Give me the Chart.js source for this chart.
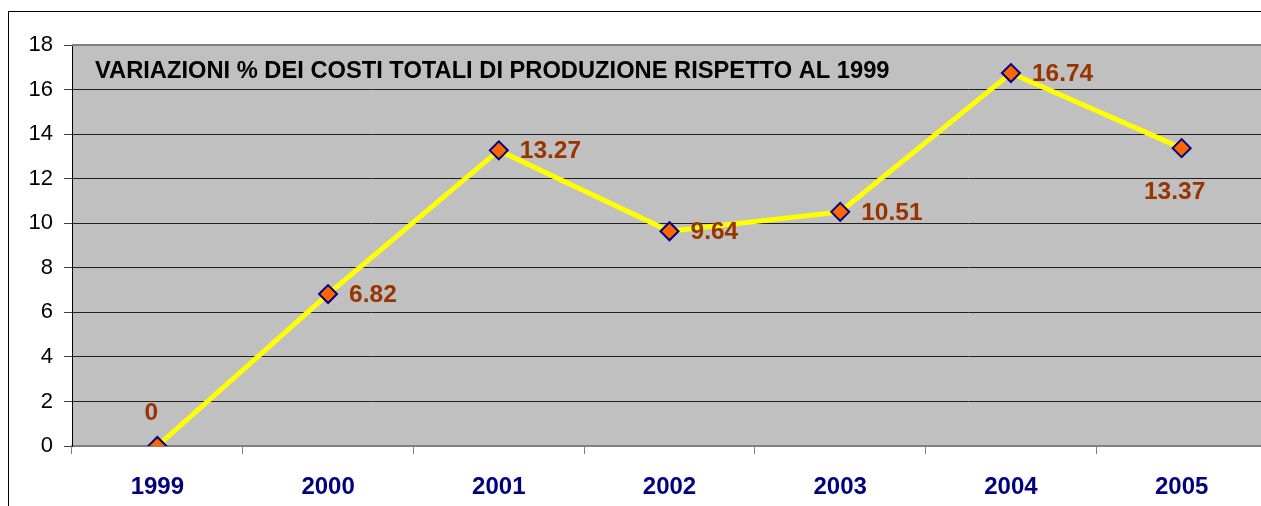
<!DOCTYPE html>
<html>
<head>
<meta charset="utf-8">
<script src="https://cdn.jsdelivr.net/npm/chart.js@4"></script>
<style>
    body { margin: 0; background: #fff; overflow: hidden; }
    #frame { position: absolute; left: 8px; top: 11px; width: 2000px; height: 1000px;
             border-top: 1px solid #000; border-left: 1px solid #000; }
    #wrap { position: absolute; left: 0; top: 0; width: 1278px; height: 506px; }
</style>
</head>
<body>
<div id="frame"></div>
<div id="wrap"><canvas id="costChart"></canvas></div>
<script>
// Dati del grafico
const anni = ['1999', '2000', '2001', '2002', '2003', '2004', '2005'];
const variazioni = [0, 6.82, 13.27, 9.64, 10.51, 16.74, 13.37];
const tickY = [0, 2, 4, 6, 8, 10, 12, 14, 16, 18];
const titolo = 'VARIAZIONI % DEI COSTI TOTALI DI PRODUZIONE RISPETTO AL 1999';

const FONT = '"Liberation Sans", Arial, sans-serif';

// Sfondo grigio dell'area del grafico + titolo interno
const areaPlugin = {
    id: 'area',
    beforeDraw(chart) {
        const { ctx, chartArea: a } = chart;
        ctx.save();
        ctx.fillStyle = '#C0C0C0';
        ctx.fillRect(a.left, a.top, a.right - a.left, a.bottom - a.top);
        ctx.restore();
    },
    beforeDatasetsDraw(chart) {
        const { ctx, chartArea: a } = chart;
        ctx.save();
        ctx.strokeStyle = '#808080';
        ctx.lineWidth = 2;
        ctx.beginPath();
        ctx.moveTo(a.left, a.top);
        ctx.lineTo(a.right, a.top);
        ctx.stroke();
        ctx.fillStyle = '#000';
        ctx.font = 'bold 23.7px ' + FONT;
        ctx.textBaseline = 'middle';
        ctx.fillText(titolo, a.left + 23, a.top + 26);
        ctx.restore();
    }
};

// Etichette dei valori vicino ai punti
const etichettePlugin = {
    id: 'etichette',
    afterDatasetsDraw(chart, args, opts) {
        const { ctx } = chart;
        const meta = chart.getDatasetMeta(0);
        ctx.save();
        ctx.fillStyle = '#993300';
        ctx.font = 'bold 24.5px ' + FONT;
        ctx.textBaseline = 'middle';
        meta.data.forEach((pt, i) => {
            const testo = String(variazioni[i]);
            const pos = opts.posizioni[i];
            if (pos === 'top') {
                ctx.textAlign = 'center';
                ctx.fillText(testo, pt.x - 6, pt.y - 33);
            } else if (pos === 'bottom') {
                ctx.textAlign = 'center';
                ctx.fillText(testo, pt.x - 7, pt.y + 44);
            } else {
                ctx.textAlign = 'left';
                ctx.fillText(testo, pt.x + 21, pt.y + 1);
            }
        });
        ctx.restore();
    }
};

new Chart(document.getElementById('costChart'), {
    type: 'line',
    data: {
        labels: anni,
        datasets: [{
            data: variazioni,
            borderColor: '#FFFF00',
            borderWidth: 5,
            pointStyle: 'rectRot',
            pointRadius: 9,
            pointHoverRadius: 9,
            pointBackgroundColor: '#FF6600',
            pointBorderColor: '#000080',
            pointBorderWidth: 2,
            tension: 0
        }]
    },
    options: {
        responsive: true,
        maintainAspectRatio: false,
        animation: false,
        layout: { padding: { top: 45, left: 0, right: 0, bottom: 0 } },
        plugins: {
            legend: { display: false },
            tooltip: { enabled: false },
            etichette: { posizioni: ['top', 'right', 'right', 'right', 'right', 'right', 'bottom'] }
        },
        scales: {
            x: {
                offset: true,
                grid: { offset: true, drawOnChartArea: false, drawTicks: true, tickLength: 8, tickColor: '#808080' },
                border: { color: '#808080', width: 2 },
                ticks: { color: '#000080', font: { family: FONT, size: 24, weight: 'bold' }, padding: 19, maxRotation: 0 },
                afterFit(scale) {
                    scale.height = 60;
                    scale.paddingLeft = 0;
                    scale.paddingRight = 0;
                }
            },
            y: {
                min: 0,
                max: 18,
                afterBuildTicks(scale) { scale.ticks = tickY.map(v => ({ value: v })); },
                grid: { color: '#202020', lineWidth: 1, tickLength: 8, tickColor: '#404040' },
                border: { color: '#000', width: 1 },
                ticks: { color: '#000', font: { family: FONT, size: 22 }, padding: 11 },
                afterFit(scale) { scale.width = 72; }
            }
        }
    },
    plugins: [areaPlugin, etichettePlugin]
});
</script>
</body>
</html>
